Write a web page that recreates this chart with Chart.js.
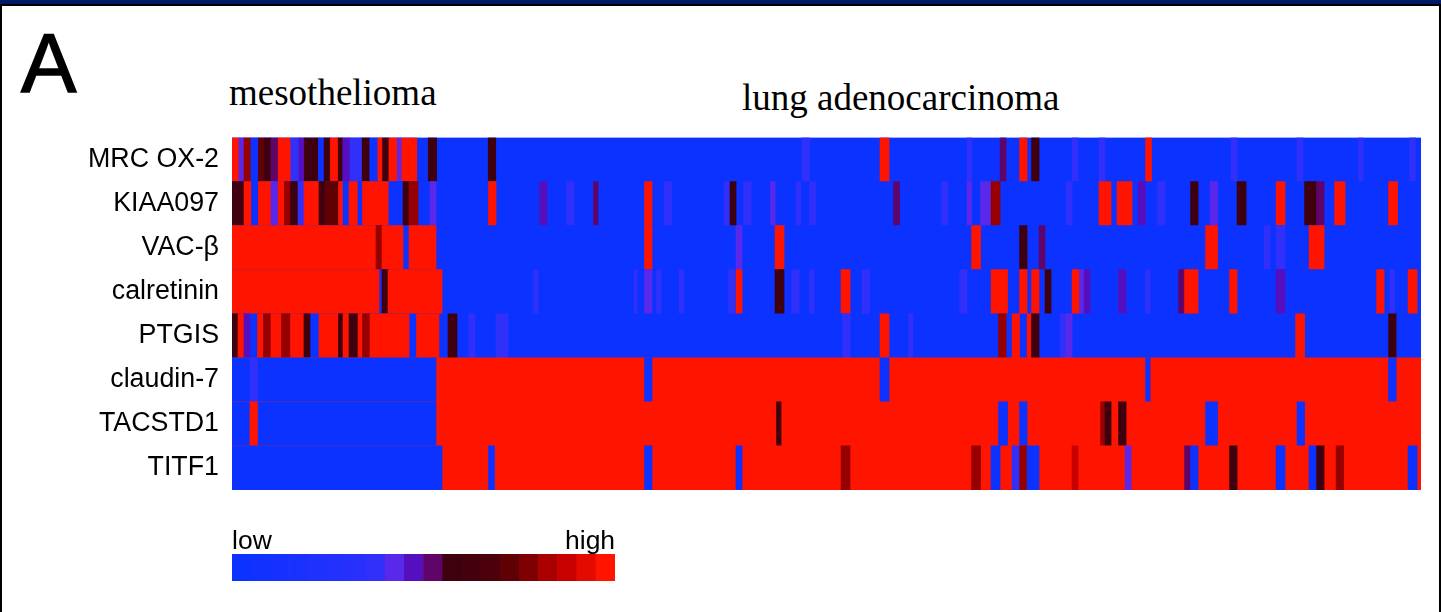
<!DOCTYPE html>
<html>
<head>
<meta charset="utf-8">
<title>mesothelioma vs lung adenocarcinoma</title>
<script src="https://cdn.jsdelivr.net/npm/chart.js@4"></script>
<style>
  html, body { margin: 0; padding: 0; background: #fff; }
  #page { position: relative; width: 1441px; height: 612px; overflow: hidden; background: #fff; }
  #topbar { position: absolute; left: 0; top: 0; width: 1441px; height: 4px; background: #001a66; }
  #frame { position: absolute; left: 0; top: 4px; width: 1441px; height: 608px; box-sizing: border-box;
           border-left: 2px solid #000; border-top: 2px solid #000; border-right: 2px solid #000; }
  .txt { position: absolute; white-space: nowrap; color: #000; }
  .sans { font-family: "Liberation Sans", sans-serif; filter: blur(0.4px); }
  .serif { font-family: "Liberation Serif", serif; }
  canvas { position: absolute; filter: blur(0.5px); }
</style>
</head>
<body>
<div id="page">
  <div id="topbar"></div>
  <div id="frame"></div>
  <div class="txt sans" style="left:21px;top:16px;font-size:83px;-webkit-text-stroke:1.5px #000;">A</div>
  <div class="txt serif" style="left:229px;top:71px;font-size:37px;">mesothelioma</div>
  <div class="txt serif" style="left:742px;top:76px;font-size:37px;">lung adenocarcinoma</div>
  <canvas id="heat" width="1441" height="612" style="left:0;top:0"></canvas>
  <div class="txt sans" style="left:232px;top:525px;font-size:26.5px;">low</div>
  <div class="txt sans" style="left:565px;top:525px;font-size:26.5px;">high</div>
  <canvas id="key" width="383" height="27" style="left:232px;top:554px"></canvas>
</div>
<script>
// expression levels
const B = 0, F = 30, V = 45, P = 52, M = 60, D = 68, K = 78, X = 85, R = 100;

const levelStops = [0, 30, 45, 52, 60, 68, 78, 85, 92, 100];
const stopColors = [
  [12, 50, 255], [48, 48, 250], [90, 40, 235], [85, 15, 190], [95, 5, 105],
  [62, 0, 15], [95, 0, 5], [150, 0, 0], [200, 0, 0], [255, 20, 0]
];

const genes = ['MRC OX-2', 'KIAA097', 'VAC-β', 'calretinin', 'PTGIS', 'claudin-7', 'TACSTD1', 'TITF1'];
const columnCount = 396.3;

// each gene: [from column, to column, level], later runs sit over earlier ones
const mrcOx2 = [[0, 396.3, B],
  [0, 2.3, R], [2.3, 4, V], [4, 6.3, X], [6.3, 8.8, B], [8.8, 10.8, K], [10.8, 13, D], [13, 15.4, M], [15.4, 19.6, R],
  [19.6, 22.3, F], [22.3, 24.1, P], [24.1, 28.8, D], [28.8, 30.7, B], [30.7, 32.8, D], [32.8, 35.4, R], [35.4, 36.9, D],
  [36.9, 39.3, P], [39.3, 43.4, F], [43.4, 45.9, D], [45.9, 48.6, B], [48.6, 50.2, R], [50.2, 52.3, D], [52.3, 55.1, R],
  [55.1, 56.6, V], [56.6, 61.6, R], [65.4, 68.2, D], [85.4, 87.9, D], [190, 192.5, F], [216, 219, R], [245, 246.5, F],
  [256, 258, M], [262.5, 265, R], [266.5, 269, D], [280, 282, F], [289, 291, F], [304.5, 306.5, R], [333, 335, F],
  [355, 357, F], [375.5, 377, F], [392.5, 394.5, F]];

const kiaa097 = [[0, 396.3, B],
  [0, 4, D], [4, 6.3, R], [8.8, 13, R], [13, 15.4, V], [15.4, 17.5, R], [17.5, 19.5, X], [19.5, 22, D], [22, 24, F],
  [24, 29, R], [29, 31, D], [31, 33, K], [33, 35.5, K], [35.5, 37, R], [37, 39, B], [39, 42, R], [42, 43.5, B],
  [43.5, 52.3, R], [52.3, 57, B], [57, 59, D], [59, 62, X], [66, 68, V], [85.5, 88, R], [102.5, 105, P], [111.5, 114, F],
  [120.5, 122, M], [137.5, 140, R], [144, 146.5, F], [164, 166, F], [166, 168, D], [170.5, 173, F], [179.5, 181, V],
  [188, 189.5, F], [192.5, 194.5, F], [220.5, 222.5, M], [236.5, 238.5, F], [245, 246.5, V], [249.5, 253, V], [253, 256, X],
  [278, 280, F], [289, 293, R], [295, 300, R], [302, 304.5, P], [308.5, 311, F], [319.5, 322, D], [326, 328.5, V],
  [335, 338, D], [348, 351, R], [357.5, 361.5, D], [361.5, 364, M], [367.5, 371, R], [385.5, 388.5, R]];

const vacBeta = [[0, 396.3, B],
  [0, 48, R], [48, 50, X], [50, 57, R], [59, 68, R], [137.5, 140, R], [168, 170, V], [181, 184, R], [246.5, 249.5, R],
  [262.5, 265, D], [269, 271, M], [324.5, 328.5, R], [344, 346, F], [348, 351, F], [359, 364, R]];

const calretinin = [[0, 396.3, B],
  [0, 49, R], [50, 52, D], [52, 70, R], [100.5, 102, F], [134, 135, F], [137.5, 140, V], [141.5, 143, F], [149, 150.5, F],
  [165.5, 167.5, F], [168, 170, R], [181, 184, D], [186.5, 189, F], [192.5, 194, F], [203, 206, R], [210, 212.5, F],
  [242.5, 245, F], [253, 258.5, R], [262.5, 265, R], [266.5, 269, R], [271, 273, D], [280, 282.5, R], [282.5, 284, V],
  [284, 286, P], [295.5, 298, P], [304.5, 306, F], [315.5, 317.5, M], [317.5, 322, R], [332.5, 335, R], [348, 351, P],
  [381.5, 384, R], [386, 387.5, F], [392, 395, R]];

const ptgis = [[0, 396.3, B],
  [0, 2, D], [2, 4, R], [4, 6, P], [8.5, 10.5, R], [10.5, 13, X], [13, 16.5, R], [16.5, 19.5, X], [19.5, 24, R], [24, 26, D],
  [29, 35.5, R], [35.5, 37, D], [37, 39, R], [39, 42, D], [42, 43.5, R], [43.5, 46, X], [46, 59, R], [61.5, 69, R],
  [72, 75, D], [79, 81, F], [88, 92, F], [203.5, 206, F], [216, 219, R], [225.5, 227, F], [255.5, 258, X], [260, 262.5, R],
  [265, 266.5, R], [266.5, 269, D], [276, 278, F], [278, 280, V], [354.5, 357.5, R], [385.5, 388, D]];

const claudin7 = [[0, 396.3, R],
  [0, 68, B], [6, 8.5, F], [137.5, 140, B], [216, 219, B], [304.5, 306, B], [385.5, 388, B]];

const tacstd1 = [[0, 396.3, R],
  [0, 68, B], [6, 8.5, R], [181.5, 183, D], [255.5, 258.5, B], [262.5, 265, B], [289.5, 291, X], [291, 293, D],
  [295.5, 298, D], [324.5, 328.5, B], [355, 357.5, B]];

const titf1 = [[0, 396.3, R],
  [0, 70, B], [85.5, 87.5, B], [137.5, 140, B], [168, 170, B], [203, 206, X], [246.5, 249.5, X], [253, 256, B],
  [260, 262.5, F], [262.5, 265, X], [265, 269, B], [280, 282, 92], [297.7, 299.7, V], [317.5, 319.5, M], [319.5, 322, B],
  [332.5, 335, D], [348, 351, B], [359, 361.5, B], [361.5, 364, D], [368, 370.5, X], [392, 395, B]];

const geneRuns = [mrcOx2, kiaa097, vacBeta, calretinin, ptgis, claudin7, tacstd1, titf1];

// colour key blocks, low to high
const keyLevels = [0, 4, 8, 12, 16, 20, 25, 30, 45, 52, 60, 68, 70, 72, 78, 82, 88, 92, 96, 100];

function levelColor(v) {
  let i = 0;
  while (i < levelStops.length - 2 && v > levelStops[i + 1]) i++;
  const t = (v - levelStops[i]) / (levelStops[i + 1] - levelStops[i]);
  const c = stopColors[i].map((a, k) => Math.round(a + (stopColors[i + 1][k] - a) * t));
  return 'rgb(' + c.join(',') + ')';
}

const points = [];
geneRuns.forEach((runs, g) => {
  runs.forEach(r => points.push({ y: genes[g], x: [r[0], r[1]], level: r[2] }));
});

new Chart(document.getElementById('heat'), {
  type: 'bar',
  data: {
    labels: genes,
    datasets: [{
      data: points,
      grouped: false,
      barPercentage: 1,
      categoryPercentage: 1,
      backgroundColor: ctx => levelColor(ctx.raw.level),
      borderWidth: 0,
    }]
  },
  options: {
    indexAxis: 'y',
    responsive: false,
    animation: false,
    layout: { padding: { top: 137.5, bottom: 122, right: 20, left: 0 } },
    plugins: { legend: { display: false }, tooltip: { enabled: false } },
    scales: {
      x: { type: 'linear', min: 0, max: columnCount, display: false },
      y: {
        type: 'category',
        grid: { display: false },
        border: { display: false },
        afterFit: s => { s.width = 232; },
        ticks: {
          color: '#000',
          padding: 5,
          font: { family: 'Liberation Sans', size: 26.8 },
        },
      },
    },
  },
});

new Chart(document.getElementById('key'), {
  type: 'bar',
  data: {
    labels: keyLevels.map(String),
    datasets: [{
      data: keyLevels.map(() => 1),
      barPercentage: 1,
      categoryPercentage: 1,
      backgroundColor: keyLevels.map(levelColor),
      borderWidth: 0,
    }]
  },
  options: {
    responsive: false,
    animation: false,
    plugins: { legend: { display: false }, tooltip: { enabled: false } },
    scales: {
      x: { display: false },
      y: { display: false, min: 0, max: 1 },
    },
  },
});
</script>
</body>
</html>
